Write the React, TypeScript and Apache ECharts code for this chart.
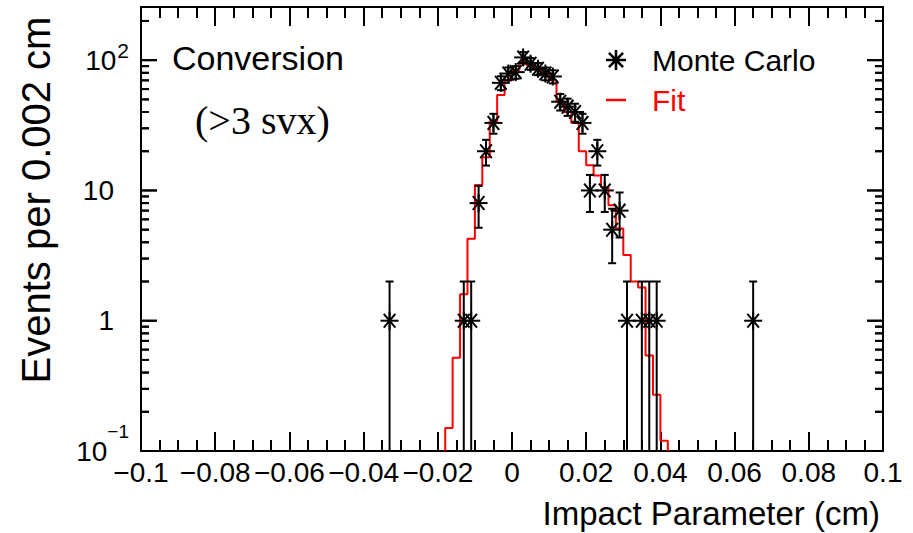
import { useEffect, useRef } from 'react';
import * as echarts from 'echarts';

// ---- data ----
const BIN_WIDTH = 0.002;
const X_MIN = -0.1;
const X_MAX = 0.1;
const X_INTERVAL = 0.02;
const Y_MIN = 0.1;
const Y_MAX = 256;

// Monte Carlo histogram (bin centres, counts)
const MC_X = [-0.033, -0.013, -0.011, -0.009, -0.007, -0.005, -0.003, -0.001, 0.001, 0.003, 0.005, 0.007, 0.009, 0.011, 0.013, 0.015, 0.017, 0.019, 0.021, 0.023, 0.025, 0.027, 0.029, 0.031, 0.035, 0.037, 0.039, 0.065];
const MC_Y = [1, 1, 1, 8, 20, 33, 67, 79, 81, 105, 94, 86, 79, 75, 48, 44, 40, 33, 10, 20, 10, 5, 7, 1, 1, 1, 1, 1];

// Fit histogram (bin centres, values)
const FIT_X = [-0.017, -0.015, -0.013, -0.011, -0.009, -0.007, -0.005, -0.003, -0.001, 0.001, 0.003, 0.005, 0.007, 0.009, 0.011, 0.013, 0.015, 0.017, 0.019, 0.021, 0.023, 0.025, 0.027, 0.029, 0.031, 0.033, 0.035, 0.037, 0.039, 0.041];
const FIT_Y = [0.15, 0.52, 1.6, 4.25, 11, 18, 34, 54, 70, 84, 97, 91, 86, 79, 70, 48, 40, 33, 20, 15.6, 13, 10.6, 7.7, 5.1, 3.2, 2.0, 1.8, 0.54, 0.27, 0.12];

// y-axis labels (decades) and their exponents
const Y_DECADES = [0.1, 1, 10, 100];
const Y_LABEL_BASE = ['10', '1', '10', '10'];
const Y_LABEL_EXP = ['−1', '', '', '2'];
// y-axis tick values inside each decade (multiples of the decade)
const Y_TICK_MULT = [1, 2, 3, 4, 5, 6, 7, 8, 9];

const SANS = '"Liberation Sans", Arial, Helvetica, sans-serif';
const SERIF = '"Liberation Serif", "Times New Roman", serif';

function starIconPath(): string {
  const w = 0.13;
  return (
    'path://' +
    [0, 45, 90, 135]
      .map((a) => {
        const r = (a * Math.PI) / 180;
        const dx = Math.cos(r);
        const dy = Math.sin(r);
        const nx = -dy * w;
        const ny = dx * w;
        const pts = [
          [dx + nx, dy + ny],
          [dx - nx, dy - ny],
          [-dx - nx, -dy - ny],
          [-dx + nx, -dy + ny],
        ];
        return 'M' + pts.map((p) => p[0].toFixed(3) + ',' + p[1].toFixed(3)).join('L') + 'Z';
      })
      .join('')
  );
}

function yTickList(): { v: number; len: number }[] {
  const out: { v: number; len: number }[] = [];
  for (let i = 0; i < Y_DECADES.length; i++) {
    for (let j = 0; j < Y_TICK_MULT.length; j++) {
      const v = Y_DECADES[i] * Y_TICK_MULT[j];
      if (v > Y_MIN * 1.0001 && v < Y_MAX) out.push({ v, len: Y_TICK_MULT[j] === 1 ? 16 : 8 });
    }
  }
  return out;
}

export default function App() {
  const ref = useRef<HTMLDivElement>(null);

  useEffect(() => {
    if (!ref.current) return;
    const chart = echarts.init(ref.current, undefined, { renderer: 'svg' });

    const mcData = MC_X.map((x, i) => [x, MC_Y[i]]);
    const ticks = yTickList();

    const half = BIN_WIDTH / 2;
    const fitData: number[][] = [[FIT_X[0] - half, Y_MIN]];
    FIT_X.forEach((x, i) => fitData.push([x - half, FIT_Y[i]]));
    const lastX = FIT_X[FIT_X.length - 1] + half;
    fitData.push([lastX, FIT_Y[FIT_Y.length - 1]]);
    fitData.push([lastX, Y_MIN]);

    const xLabel = (v: number) => {
      if (Math.abs(v) < 1e-9) return '0';
      const s = String(parseFloat(Math.abs(v).toFixed(3)));
      return (v < 0 ? '−' : '') + s;
    };

    const yLabel = (v: number) => {
      const i = Y_DECADES.findIndex((d) => Math.abs(Math.log10(d) - Math.log10(v)) < 1e-6);
      if (i < 0) return '';
      const exp = Y_LABEL_EXP[i];
      if (exp === '−1') return `{n|${Y_LABEL_BASE[i]}}{s1|${exp}}`;
      if (exp) return `{n|${Y_LABEL_BASE[i]}}{s2|${exp}}`;
      return `{n|${Y_LABEL_BASE[i]}}{g| }`;
    };

    const axisLineStyle = { color: '#000', width: 2 };

    const textGraphics: any[] = [
      {
        type: 'text',
        x: 172,
        y: 58,
        style: { text: 'Conversion', font: `34px ${SANS}`, fill: '#000', verticalAlign: 'middle' },
      },
      {
        type: 'text',
        x: 195,
        y: 120,
        style: { text: '(>3 svx)', font: `40px ${SERIF}`, fill: '#000', verticalAlign: 'middle' },
      },
    ];

    const option: any = {
      animation: false,
      backgroundColor: '#fff',
      grid: { left: 141, right: 30, top: 7, bottom: 82, containLabel: false },
      legend: {
        orient: 'vertical',
        left: 606,
        top: 45,
        padding: 0,
        itemWidth: 20,
        itemHeight: 20,
        itemGap: 10,
        selectedMode: false,
        textStyle: { fontSize: 30, fontFamily: SANS, color: '#000', padding: [0, 0, 0, 21] },
        data: [
          { name: 'Monte Carlo', icon: starIconPath(), itemStyle: { color: '#000' } },
          {
            name: 'Fit',
            icon: 'path://M0,0h8v1h-8z',
            itemStyle: { color: '#ff0000' },
            textStyle: { color: '#ff0000' },
          },
        ],
      },
      xAxis: [
        {
          type: 'value',
          min: X_MIN,
          max: X_MAX,
          interval: X_INTERVAL,
          position: 'bottom',
          name: 'Impact Parameter (cm)',
          nameLocation: 'end',
          nameGap: -3,
          nameTextStyle: {
            fontSize: 33,
            fontFamily: SANS,
            color: '#000',
            align: 'right',
            verticalAlign: 'top',
            padding: [46, 0, 0, 0],
          },
          axisLine: { show: true, onZero: false, lineStyle: axisLineStyle },
          axisTick: { show: true, inside: true, length: 19, lineStyle: axisLineStyle },
          minorTick: { show: true, splitNumber: 4, length: 11, lineStyle: axisLineStyle },
          axisLabel: {
            show: true,
            margin: 7,
            fontSize: 28,
            fontFamily: SANS,
            color: '#000',
            formatter: xLabel,
          },
          splitLine: { show: false },
          minorSplitLine: { show: false },
        },
        {
          type: 'value',
          min: X_MIN,
          max: X_MAX,
          interval: X_INTERVAL,
          position: 'top',
          axisLine: { show: true, onZero: false, lineStyle: axisLineStyle },
          axisTick: { show: true, inside: true, length: 19, lineStyle: axisLineStyle },
          minorTick: { show: true, splitNumber: 4, length: 11, lineStyle: axisLineStyle },
          axisLabel: { show: false },
          splitLine: { show: false },
        },
      ],
      yAxis: [
        {
          type: 'log',
          logBase: 10,
          min: Y_MIN,
          max: Y_MAX,
          position: 'left',
          name: 'Events per 0.002 cm',
          nameLocation: 'middle',
          nameGap: 105,
          nameRotate: 90,
          nameTextStyle: {
            fontSize: 40,
            fontFamily: SANS,
            color: '#000',
            verticalAlign: 'middle',
            padding: [0, 0, 0, 58],
          },
          axisLine: { show: true, onZero: false, lineStyle: axisLineStyle },
          axisTick: { show: false },
          minorTick: { show: false },
          splitLine: { show: false },
          axisLabel: {
            show: true,
            margin: 12,
            color: '#000',
            fontFamily: SANS,
            fontSize: 28,
            formatter: yLabel,
            rich: {
              n: { fontSize: 28, fontFamily: SANS, color: '#000' },
              g: { fontSize: 20, width: 15, fontFamily: SANS },
              s2: { fontSize: 21, fontFamily: SANS, color: '#000', padding: [0, 0, 20, 1] },
              s1: { fontSize: 19, fontFamily: SANS, color: '#000', padding: [0, 0, 40, 0] },
            },
          },
        },
        {
          type: 'log',
          logBase: 10,
          min: Y_MIN,
          max: Y_MAX,
          position: 'right',
          axisLine: { show: true, onZero: false, lineStyle: axisLineStyle },
          axisTick: { show: false },
          axisLabel: { show: false },
          splitLine: { show: false },
        },
      ],
      graphic: textGraphics,
      series: [
        {
          name: 'Fit',
          type: 'line',
          step: 'end',
          data: fitData,
          symbol: 'none',
          color: '#ff0000',
          lineStyle: { color: '#ff0000', width: 2 },
          clip: true,
          z: 2,
        },
        {
          name: 'Monte Carlo',
          type: 'custom',
          data: mcData,
          color: '#000',
          z: 3,
          renderItem: (params: any, api: any) => {
            const x = api.value(0);
            const y = api.value(1);
            const err = Math.sqrt(y);
            const lo = y - err;
            const hi = y + err;
            const c = api.coord([x, y]);
            const top = api.coord([x, hi]);
            const bot = api.coord([x, lo > Y_MIN ? lo : Y_MIN]);
            const cap = 4;
            const arm = 9;
            const st = { stroke: '#000', lineWidth: 2 };
            const children: any[] = [
              { type: 'line', shape: { x1: c[0], y1: top[1], x2: c[0], y2: bot[1] }, style: st },
              { type: 'line', shape: { x1: c[0] - cap, y1: top[1], x2: c[0] + cap, y2: top[1] }, style: st },
            ];
            if (lo > Y_MIN) {
              children.push({ type: 'line', shape: { x1: c[0] - cap, y1: bot[1], x2: c[0] + cap, y2: bot[1] }, style: st });
            }
            [0, 50, 90, 130].forEach((a) => {
              const r = (a * Math.PI) / 180;
              const dx = Math.cos(r) * arm;
              const dy = Math.sin(r) * arm;
              children.push({
                type: 'line',
                shape: { x1: c[0] - dx, y1: c[1] - dy, x2: c[0] + dx, y2: c[1] + dy },
                style: { stroke: '#000', lineWidth: 2 },
              });
            });
            // log-axis frame ticks (2..9 per decade), drawn once through the same y scale
            if (params.dataIndex === 0) {
              ticks.forEach((t) => {
                const pl = api.coord([X_MIN, t.v]);
                const pr = api.coord([X_MAX, t.v]);
                children.push({ type: 'rect', shape: { x: pl[0], y: pl[1] - 1, width: t.len, height: 2 }, style: { fill: '#000' } });
                children.push({ type: 'rect', shape: { x: pr[0] - t.len, y: pr[1] - 1, width: t.len, height: 2 }, style: { fill: '#000' } });
              });
            }
            return { type: 'group', children };
          },
        },
      ],
    };

    chart.setOption(option);

    // same ticks also as graphic rects positioned via the chart's y scale
    const tickEls: any[] = [];
    ticks.forEach((t) => {
      const pl = chart.convertToPixel({ xAxisIndex: 0, yAxisIndex: 0 }, [X_MIN, t.v]) as number[];
      const pr = chart.convertToPixel({ xAxisIndex: 0, yAxisIndex: 0 }, [X_MAX, t.v]) as number[];
      if (!pl || !pr || !isFinite(pl[1])) return;
      tickEls.push({
        type: 'rect',
        silent: true,
        z: 10,
        shape: { x: pl[0], y: pl[1] - 1, width: t.len, height: 2 },
        style: { fill: '#000' },
      });
      tickEls.push({
        type: 'rect',
        silent: true,
        z: 10,
        shape: { x: pr[0] - t.len, y: pr[1] - 1, width: t.len, height: 2 },
        style: { fill: '#000' },
      });
    });
    chart.setOption({ graphic: [...textGraphics, ...tickEls] });

    return () => chart.dispose();
  }, []);

  return (
    <div
      ref={ref}
      style={{ position: 'fixed', left: 0, top: 0, width: 913, height: 533, background: '#fff' }}
    />
  );
}
